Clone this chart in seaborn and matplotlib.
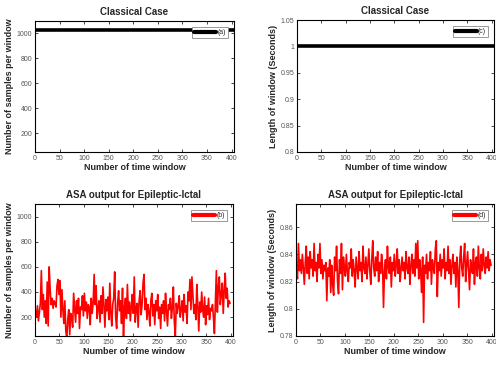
import numpy as np
import pandas as pd
import matplotlib
matplotlib.use("Agg")
import matplotlib.pyplot as plt
import seaborn as sns
from matplotlib.ticker import FormatStrFormatter

# ==============================
# Data
# ==============================

N_WINDOWS = 405
CLASSIC_SAMPLES = 1024
CLASSIC_LENGTH = 1.0

# ASA output, one value per two time windows (x = 1, 3, 5, ...)
asa_samples = [
    250, 200, 290, 170, 240, 310, 570, 260, 380, 200,
    330, 150, 480, 130, 600, 420, 300, 350, 270, 330,
    310, 280, 450, 500, 380, 490, 200, 420, 260, 150,
    330, 90, 30, 180, 260, 60, 230, 200, 120, 390,
    270, 160, 330, 230, 350, 110, 280, 260, 370, 210,
    390, 250, 320, 190, 300, 280, 140, 350, 230, 320,
    540, 300, 450, 190, 270, 330, 160, 370, 230, 440,
    290, 120, 340, 250, 360, 180, 470, 240, 130, 300,
    350, 560, 200, 110, 310, 410, 250, 330, 150, 430,
    20, 280, 350, 190, 460, 230, 320, 170, 290, 380,
    230, 520, 160, 270, 310, 120, 330, 410, 220, 300,
    470, 540, 260, 350, 180, 300, 240, 130, 330, 390,
    210, 300, 140, 330, 250, 380, 190, 280, 110, 300,
    230, 330, 170, 390, 250, 130, 300, 260, 350, 190,
    280, 440, 160, 50, 310, 230, 290, 370, 200, 260,
    330, 170, 380, 240, 290, 150, 400, 330, 500, 260,
    520, 380, 230, 300, 180, 460, 290, 90, 320, 240,
    400, 260, 200, 360, 140, 290, 220, 350, 180, 270,
    250, 300, 200, 70, 330, 570, 240, 440, 520, 300,
    380, 470, 230, 410, 550, 350, 430, 280, 330, 310,
]

asa_length = [
    0.832, 0.822, 0.848, 0.828, 0.836, 0.826, 0.840, 0.830, 0.818, 0.834,
    0.846, 0.826, 0.838, 0.822, 0.842, 0.830, 0.836, 0.824, 0.848, 0.828,
    0.834, 0.820, 0.840, 0.830, 0.848, 0.826, 0.836, 0.822, 0.832, 0.828,
    0.834, 0.806, 0.830, 0.824, 0.836, 0.812, 0.832, 0.818, 0.810, 0.838,
    0.828, 0.846, 0.820, 0.811, 0.836, 0.826, 0.848, 0.814, 0.838, 0.830,
    0.824, 0.840, 0.828, 0.820, 0.834, 0.830, 0.844, 0.824, 0.836, 0.828,
    0.816, 0.838, 0.830, 0.822, 0.842, 0.828, 0.834, 0.820, 0.846, 0.830,
    0.826, 0.838, 0.822, 0.832, 0.844, 0.828, 0.818, 0.836, 0.850, 0.830,
    0.824, 0.838, 0.828, 0.842, 0.820, 0.834, 0.826, 0.840, 0.832, 0.801,
    0.828, 0.836, 0.822, 0.846, 0.830, 0.826, 0.838, 0.816, 0.834, 0.828,
    0.840, 0.824, 0.832, 0.844, 0.826, 0.836, 0.820, 0.830, 0.838, 0.828,
    0.834, 0.822, 0.842, 0.830, 0.826, 0.838, 0.818, 0.832, 0.840, 0.826,
    0.836, 0.824, 0.848, 0.830, 0.850, 0.822, 0.836, 0.828, 0.812, 0.838,
    0.790, 0.832, 0.826, 0.840, 0.822, 0.834, 0.828, 0.842, 0.818, 0.836,
    0.830, 0.826, 0.844, 0.850, 0.809, 0.834, 0.828, 0.840, 0.824, 0.836,
    0.830, 0.844, 0.822, 0.834, 0.828, 0.846, 0.826, 0.836, 0.818, 0.832,
    0.840, 0.826, 0.834, 0.816, 0.838, 0.828, 0.801, 0.836, 0.846, 0.830,
    0.824, 0.838, 0.848, 0.820, 0.832, 0.842, 0.828, 0.814, 0.836, 0.830,
    0.826, 0.844, 0.818, 0.834, 0.838, 0.824, 0.846, 0.830, 0.822, 0.840,
    0.828, 0.844, 0.832, 0.826, 0.838, 0.830, 0.842, 0.828, 0.836, 0.832,
]

XTICKS = [0, 50, 100, 150, 200, 250, 300, 350, 400]
SAMPLE_TICKS = [200, 400, 600, 800, 1000]
LENGTH_TICKS = [0.8, 0.85, 0.9, 0.95, 1, 1.05]
ASA_LENGTH_TICKS = [0.78, 0.8, 0.82, 0.84, 0.86]

# ==============================
# Style
# ==============================

sns.set_style("ticks")
plt.rcParams["font.family"] = ["Liberation Sans Narrow", "Liberation Sans", "DejaVu Sans"]

classic_x = np.arange(0, N_WINDOWS + 1)
asa_x = np.arange(1, 2 * len(asa_samples), 2)

df_classic = pd.DataFrame({
    "window": classic_x,
    "samples": np.full(len(classic_x), CLASSIC_SAMPLES),
    "length": np.full(len(classic_x), CLASSIC_LENGTH),
})
df_asa = pd.DataFrame({
    "window": asa_x,
    "samples": asa_samples,
    "length": asa_length,
})


def style_axis(ax, title, ylabel, ylim, yticks, fmt=None):
    ax.set_title(title, fontsize=7, fontweight="bold", pad=4)
    ax.set_xlabel("Number of time window", fontsize=6.5, fontweight="bold", labelpad=1)
    ax.set_ylabel(ylabel, fontsize=6.5, fontweight="bold", labelpad=2)
    ax.set_xlim(0, N_WINDOWS)
    ax.set_ylim(*ylim)
    ax.set_xticks(XTICKS)
    ax.set_yticks(yticks)
    if fmt:
        ax.yaxis.set_major_formatter(FormatStrFormatter(fmt))
    ax.tick_params(direction="in", length=2.5, width=0.6, labelsize=5,
                   labelcolor="#555555", top=True, right=True, pad=2)
    for spine in ax.spines.values():
        spine.set_visible(True)
        spine.set_linewidth(0.8)
        spine.set_color("black")
    leg = ax.legend(loc="upper right", fontsize=5, handlelength=3.2,
                    borderpad=0.3, handletextpad=0.1, borderaxespad=0.9,
                    fancybox=False, framealpha=1)
    leg.get_frame().set_edgecolor("#888888")
    leg.get_frame().set_linewidth(0.6)


fig = plt.figure(figsize=(4.96, 3.66), dpi=100)
ax_a = fig.add_axes([35 / 496, 1 - 152 / 366, 199 / 496, 131 / 366])
ax_c = fig.add_axes([297 / 496, 1 - 152 / 366, 197 / 496, 132 / 366])
ax_b = fig.add_axes([35 / 496, 1 - 336 / 366, 198 / 496, 132 / 366])
ax_d = fig.add_axes([296 / 496, 1 - 336 / 366, 198 / 496, 132 / 366])

sns.lineplot(data=df_classic, x="window", y="samples", ax=ax_a,
             color="black", linewidth=2.6, label="(a)")
sns.lineplot(data=df_classic, x="window", y="length", ax=ax_c,
             color="black", linewidth=2.6, label="(c)")
sns.lineplot(data=df_asa, x="window", y="samples", ax=ax_b,
             color="red", linewidth=1.2, label="(b)")
sns.lineplot(data=df_asa, x="window", y="length", ax=ax_d,
             color="red", linewidth=1.2, label="(d)")

style_axis(ax_a, "Classical Case", "Number of samples per window",
           (50, 1100), SAMPLE_TICKS)
style_axis(ax_c, "Classical Case", "Length of window (Seconds)",
           (0.8, 1.05), LENGTH_TICKS, "%g")
style_axis(ax_b, "ASA output for Epileptic-Ictal", "Number of samples per window",
           (50, 1100), SAMPLE_TICKS)
style_axis(ax_d, "ASA output for Epileptic-Ictal", "Length of window (Seconds)",
           (0.78, 0.877), ASA_LENGTH_TICKS, "%g")

for ax in (ax_a, ax_c, ax_b, ax_d):
    for line in ax.get_legend().get_lines():
        line.set_linewidth(3)

fig.savefig("out.png", dpi=100)
plt.close(fig)
